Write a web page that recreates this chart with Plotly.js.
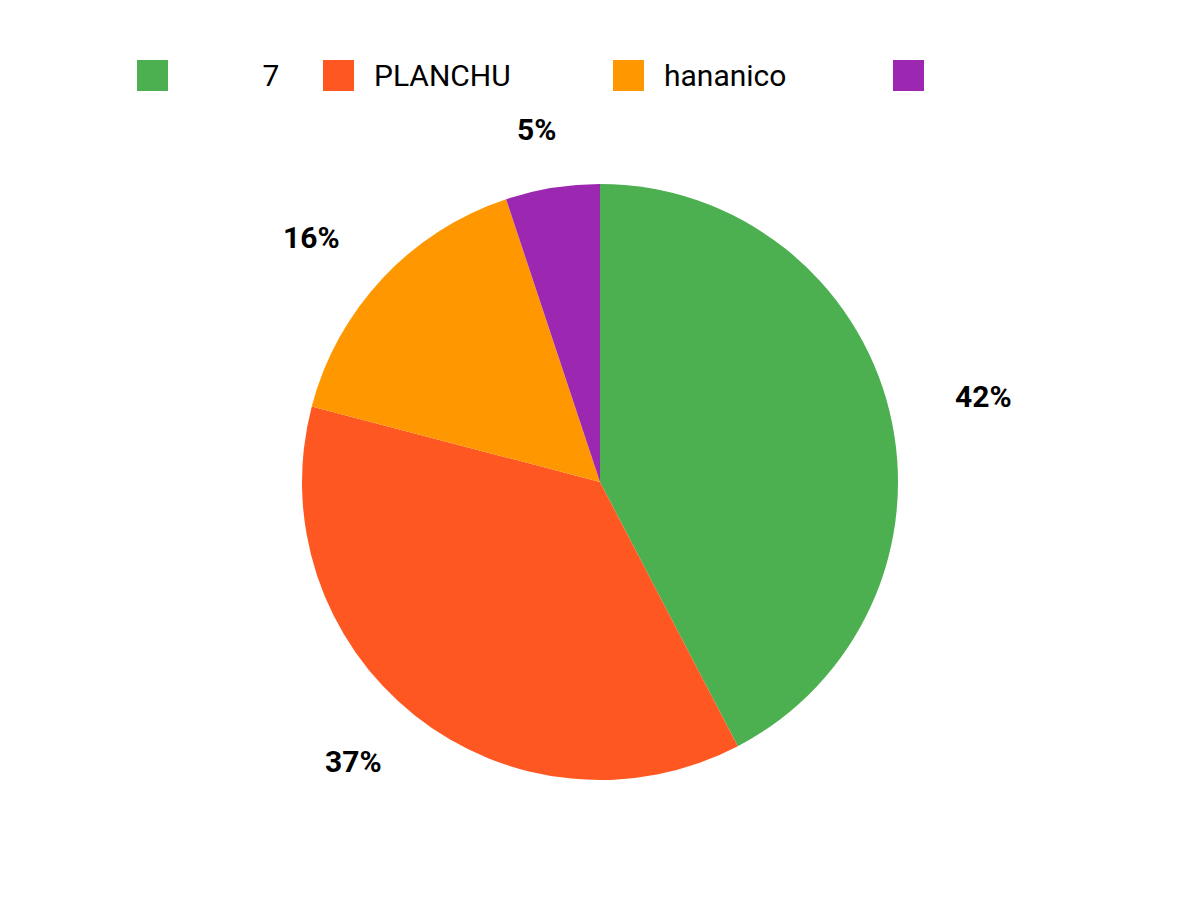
<!DOCTYPE html>
<html>
<head>
<meta charset="utf-8">
<script src="https://cdn.plot.ly/plotly-3.0.1.min.js"></script>
<style>
  body { margin: 0; background: #fff; }
  #chart { width: 1200px; height: 900px; }
</style>
</head>
<body>
<div id="chart"></div>
<script>
// Data
let labels = ['\u00a0\u00a0\u00a0\u00a0\u00a0\u00a0\u00a0\u00a0\u00a0\u00a07', 'PLANCHU', 'hananico', '']
let values = [83, 72, 31, 10]
let colors = ['#4CAF50', '#FF5722', '#FF9800', '#9C27B0']

// Legend item left edges (px), picked to match the layout
let legend_x = [137, 323, 613, 893]

const W = 1200, H = 900
const cx = 600, cy = 482, r = 298

let total = values.reduce((a, b) => a + b, 0)

let shapes = []
let annotations = []

// Percent labels sitting outside each slice
let cum = 0
for (let [i, v] of values.entries()) {
  let mid = (cum + v / 2) / total * 2 * Math.PI
  cum += v
  let px = cx + Math.sin(mid) * 395
  let py = cy - Math.cos(mid) * 357
  annotations.push({
    x : px / W, y : 1 - py / H, xref : 'paper', yref : 'paper',
    xanchor : 'center', yanchor : 'middle',
    text : '<b>' + Math.round(v / total * 100) + '%</b>',
    showarrow : false,
    font : {family : 'Roboto', size : 30, color : '#000'}
  })
}

// Hand-built legend with big squares
for (let [i, lab] of labels.entries()) {
  let x0 = legend_x[i]
  shapes.push({
    type : 'rect', xref : 'paper', yref : 'paper',
    x0 : x0 / W, x1 : (x0 + 31) / W,
    y0 : 1 - 91 / H, y1 : 1 - 60 / H,
    fillcolor : colors[i], line : {width : 0}
  })
  if (lab) {
    annotations.push({
      x : (x0 + 49) / W, y : 1 - 75 / H, xref : 'paper', yref : 'paper',
      xanchor : 'left', yanchor : 'middle',
      text : lab, showarrow : false,
      font : {family : 'Roboto', size : 30, color : '#000'}
    })
  }
}

let trace = {
  type : 'pie',
  labels : labels,
  values : values,
  marker : {colors : colors, line : {width : 0}},
  sort : false,
  direction : 'clockwise',
  rotation : 0,
  textinfo : 'none',
  hoverinfo : 'label+percent',
  domain : {x : [0, 1], y : [1 - (cy + r) / H, 1 - (cy - r) / H]}
}

let layout = {
  width : W, height : H,
  margin : {l : 0, r : 0, t : 0, b : 0},
  showlegend : false,
  paper_bgcolor : '#fff',
  shapes : shapes,
  annotations : annotations
}

Plotly.newPlot('chart', [trace], layout, {displayModeBar : false})
</script>
</body>
</html>
